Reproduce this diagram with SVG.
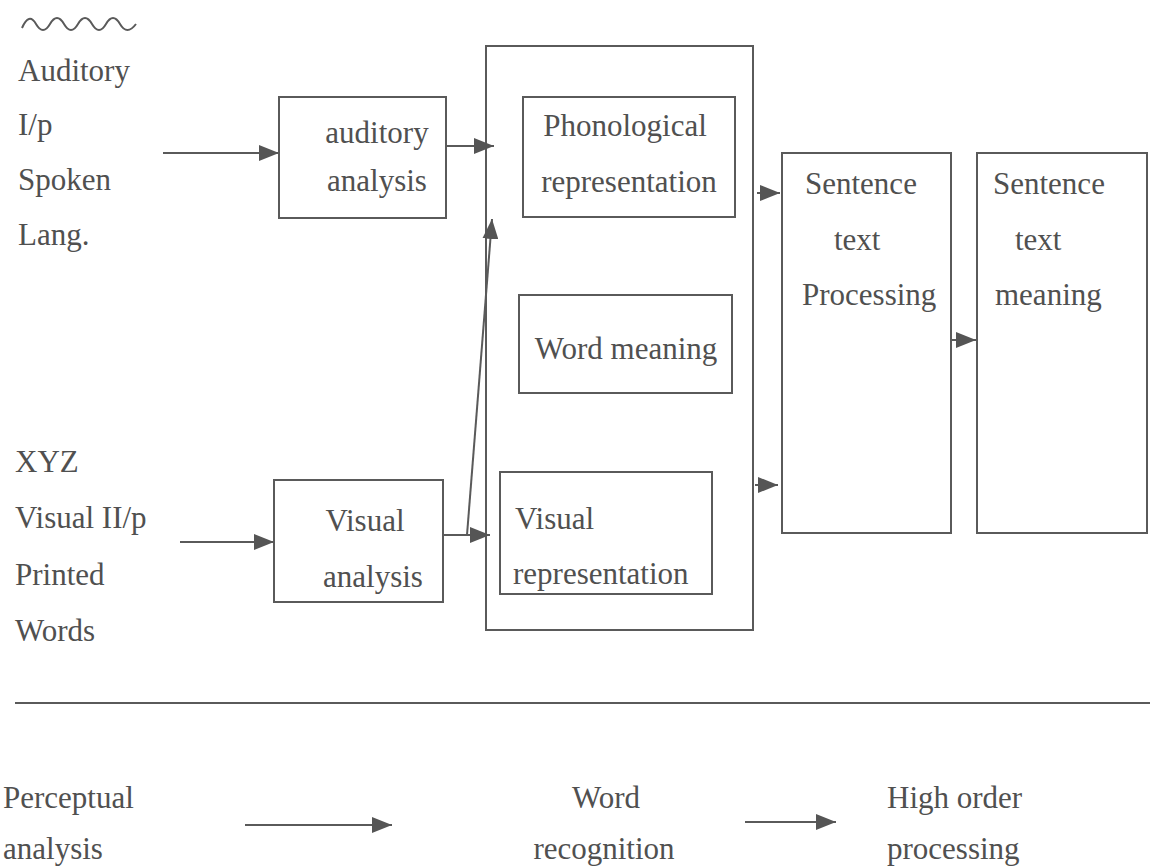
<svg xmlns="http://www.w3.org/2000/svg" width="1150" height="867" viewBox="0 0 1150 867">
<defs>
<style>
.t{font-family:"Liberation Serif","Times New Roman",serif;font-size:31px;fill:#505050}
.b{fill:none;stroke:#5a5a5a;stroke-width:2}
.c{fill:none;stroke:#5a5a5a;stroke-width:2}
</style>
<marker id="ah" markerWidth="20" markerHeight="16" refX="20" refY="8" orient="auto" markerUnits="userSpaceOnUse">
<path d="M0,0 L20,8 L0,16 Z" fill="#555"/>
</marker>
</defs>
<rect width="1150" height="867" fill="#fff"/>
<g id="auditory-input">
<path class="c" d="M22,28 Q29,12 36,24 T50,24 T64,24 T78,24 T92,24 T106,24 T120,24 T136,24"/>
<text class="t" x="18" y="81">Auditory</text>
<text class="t" x="18" y="135">I/p</text>
<text class="t" x="18" y="190">Spoken</text>
<text class="t" x="18" y="245">Lang.</text>
</g>
<g id="visual-input">
<text class="t" x="15" y="472">XYZ</text>
<text class="t" x="15" y="528">Visual II/p</text>
<text class="t" x="15" y="585">Printed</text>
<text class="t" x="15" y="641">Words</text>
</g>
<g id="auditory-analysis">
<rect class="b" x="279" y="97" width="167" height="121"/>
<text class="t" x="377" y="143" text-anchor="middle">auditory</text>
<text class="t" x="377" y="191" text-anchor="middle">analysis</text>
</g>
<g id="visual-analysis">
<rect class="b" x="274" y="480" width="169" height="122"/>
<text class="t" x="365" y="531" text-anchor="middle">Visual</text>
<text class="t" x="373" y="587" text-anchor="middle">analysis</text>
</g>
<g id="word-recognition-box">
<rect class="b" x="486" y="46" width="267" height="584"/>
</g>
<g id="phonological">
<rect class="b" x="523" y="97" width="212" height="120"/>
<text class="t" x="625" y="136" text-anchor="middle">Phonological</text>
<text class="t" x="629" y="192" text-anchor="middle">representation</text>
</g>
<g id="word-meaning">
<rect class="b" x="519" y="295" width="213" height="98"/>
<text class="t" x="626" y="359" text-anchor="middle">Word meaning</text>
</g>
<g id="visual-representation">
<rect class="b" x="500" y="472" width="212" height="122"/>
<text class="t" x="515" y="529">Visual</text>
<text class="t" x="513" y="584">representation</text>
</g>
<g id="sentence-processing">
<rect class="b" x="782" y="153" width="169" height="380"/>
<text class="t" x="805" y="194">Sentence</text>
<text class="t" x="834" y="250">text</text>
<text class="t" x="802" y="305">Processing</text>
</g>
<g id="sentence-meaning">
<rect class="b" x="977" y="153" width="170" height="380"/>
<text class="t" x="993" y="194">Sentence</text>
<text class="t" x="1015" y="250">text</text>
<text class="t" x="995" y="305">meaning</text>
</g>
<g id="legend">
<text class="t" x="3" y="808">Perceptual</text>
<text class="t" x="3" y="859">analysis</text>
<text class="t" x="606" y="808" text-anchor="middle">Word</text>
<text class="t" x="604" y="859" text-anchor="middle">recognition</text>
<text class="t" x="887" y="808">High order</text>
<text class="t" x="887" y="859">processing</text>
</g>
<g id="connectors">
<line class="c" x1="163" y1="153" x2="279" y2="153" marker-end="url(#ah)"/>
<line class="c" x1="446" y1="146" x2="494" y2="146" marker-end="url(#ah)"/>
<line class="c" x1="180" y1="542" x2="274" y2="542" marker-end="url(#ah)"/>
<line class="c" x1="443" y1="535" x2="490" y2="535" marker-end="url(#ah)"/>
<line class="c" x1="467" y1="535" x2="492" y2="219" marker-end="url(#ah)"/>
<line class="c" x1="757" y1="193" x2="780" y2="193" marker-end="url(#ah)"/>
<line class="c" x1="755" y1="485" x2="778" y2="485" marker-end="url(#ah)"/>
<line class="c" x1="951" y1="340" x2="976" y2="340" marker-end="url(#ah)"/>
<line class="c" x1="15" y1="703" x2="1150" y2="703"/>
<line class="c" x1="245" y1="825" x2="392" y2="825" marker-end="url(#ah)"/>
<line class="c" x1="745" y1="822" x2="836" y2="822" marker-end="url(#ah)"/>
</g>
</svg>
